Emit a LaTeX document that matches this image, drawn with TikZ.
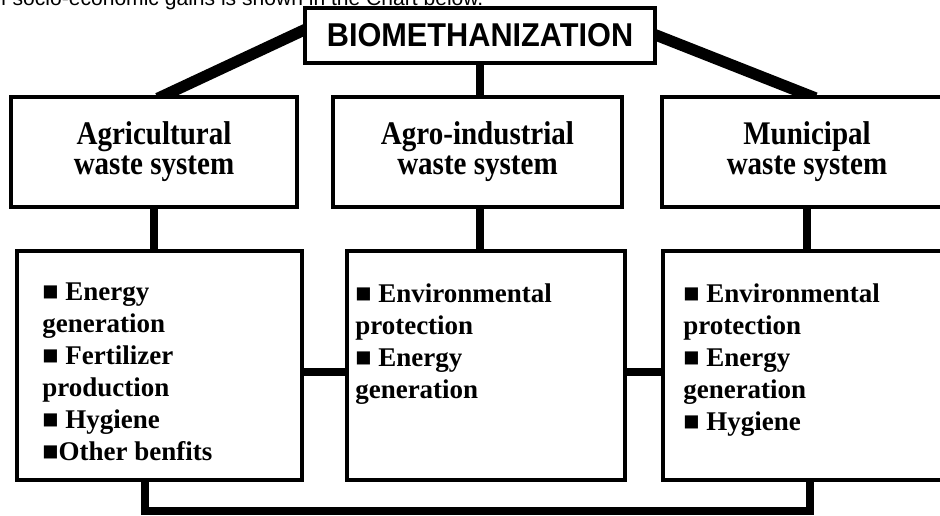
\documentclass[tikz,border=0pt]{standalone}
\usepackage{fontspec}
\setmainfont{Liberation Serif}
\newfontfamily\hdfont{Liberation Serif}[FakeStretch=0.88]
\newfontfamily\ttlfont{Liberation Sans}[FakeStretch=0.93]
\newfontfamily\capfont{Liberation Sans}
\usetikzlibrary{calc,backgrounds}
\begin{document}
\begin{tikzpicture}[x=0.75pt,y=-0.75pt,
  box/.style={draw=black,line width=3pt,inner sep=0pt,fill=white},
  sz/.style 2 args={minimum width=#1*0.75pt,minimum height=#2*0.75pt},
  conn/.style={draw=black,line width=6pt},
  diag/.style={draw=black,line width=8.5pt},
  head/.style={font=\hdfont\bfseries\fontsize{24.75pt}{22.5pt}\selectfont,align=center},
  list/.style={font=\bfseries\fontsize{20.25pt}{24pt}\selectfont,align=left,inner sep=0pt,anchor=north west}]
\useasboundingbox (0,0) rectangle (940,515);
\clip (0,0) rectangle (940,515);

% caption fragment cut off at the top
\node[anchor=base west,inner sep=0pt,font=\capfont\fontsize{15.8pt}{18pt}\selectfont] (cap) at (-11,5) {of socio-economic gains is shown in the Chart below.};

% boxes
\node[box,sz={350}{55},font=\ttlfont\bfseries\fontsize{24.75pt}{30pt}\selectfont] (bio) at (480,35.5) {BIOMETHANIZATION};
\node[box,sz={286}{110},head] (agri) at (154,152) {Agricultural\\waste system};
\node[box,sz={289}{110},head] (agro) at (477.5,152) {Agro-industrial\\waste system};
\node[box,sz={290}{110},head] (muni) at (807,152) {Municipal\\waste system};
\node[box,sz={285}{229}] (botL) at (159.5,365.5) {};
\node[box,sz={278}{229}] (botM) at (486,365.5) {};
\node[box,sz={290}{229}] (botR) at (808,365.5) {};

% lists
\node[list] (lL) at (42,283) {■ Energy\\generation\\■ Fertilizer\\production\\■ Hygiene\\■Other benfits};
\node[list] (lM) at (355,283) {■ Environmental\\protection\\■ Energy\\generation};
\node[list] (lR) at (683,283) {■ Environmental\\protection\\■ Energy\\generation\\■ Hygiene};

% connectors
\coordinate (bl) at ($(bio.west)+(0,-5)$);
\coordinate (dl) at ($(agri.north)+(11,0)$);
\coordinate (dr) at ($(muni.north)+(1,0)$);
\coordinate (loop) at (480,511);
\begin{pgfonlayer}{background}
\fill[white] (0,0) rectangle (940,515);
\draw[diag] ($(bl)!-6pt!(dl)$) -- ($(dl)!-6pt!(bl)$);
\draw[diag] ($(bio.east)!-6pt!(dr)$) -- ($(dr)!-6pt!(bio.east)$);
\draw[conn] (bio.south) -- (bio.south |- agro.north);
\draw[conn] (agri.south) -- (agri.south |- botL.north);
\draw[conn] ($(agro.south)+(2.5,0)$) -- ($(agro.south |- botM.north)+(2.5,0)$);
\draw[conn] (muni.south) -- (muni.south |- botR.north);
\draw[conn] ($(botL.east)+(0,6)$) -- ($(botM.west)+(0,6)$);
\draw[conn] ($(botM.east)+(0,6)$) -- ($(botR.west)+(0,6)$);
\draw[conn] ($(botL.south)+(-15,0)$) |- (loop) -| ($(botR.south)+(2,0)$);
\end{pgfonlayer}
\end{tikzpicture}
\end{document}
